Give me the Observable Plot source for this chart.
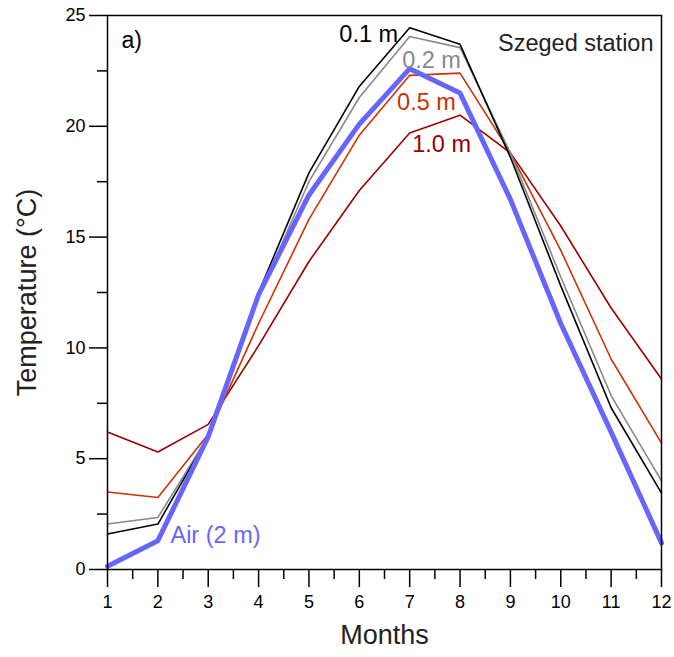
<!DOCTYPE html>
<html>
<head>
<meta charset="utf-8">
<script src="https://cdn.jsdelivr.net/npm/d3@7"></script>
<script src="https://cdn.jsdelivr.net/npm/@observablehq/plot@0.6"></script>
<style>
  body { margin: 0; background: #fff; }
  #chart { width: 674px; height: 657px; }
</style>
</head>
<body>
<div id="chart"></div>
<script>
const months = [1, 2, 3, 4, 5, 6, 7, 8, 9, 10, 11, 12];
const air  = [0.15, 1.3, 6.0, 12.4, 16.9, 20.1, 22.6, 21.5, 16.7, 11.1, 6.2, 1.2];
const d01  = [1.6, 2.05, 6.0, 12.5, 17.9, 21.8, 24.45, 23.7, 18.6, 12.8, 7.3, 3.45];
const d02  = [2.05, 2.35, 6.0, 12.3, 17.5, 21.3, 24.05, 23.55, 18.8, 13.2, 7.85, 4.0];
const d05  = [3.5, 3.25, 6.1, 11.1, 15.8, 19.6, 22.3, 22.4, 18.8, 14.4, 9.5, 5.7];
const d10  = [6.2, 5.3, 6.55, 10.1, 13.9, 17.1, 19.7, 20.5, 18.8, 15.5, 11.8, 8.6];
const xMajor = months;
const xMinor = d3.range(1.5, 12, 1);
const yMajor = [0, 5, 10, 15, 20, 25];
const yMinor = [2.5, 7.5, 12.5, 17.5, 22.5];

const toRows = (arr) => months.map((m, i) => ({m, v: arr[i]}));
const font = "'Liberation Sans', Arial, Helvetica, sans-serif";

const chart = Plot.plot({
  width: 674,
  height: 657,
  marginLeft: 107,
  marginRight: 13,
  marginTop: 15,
  marginBottom: 88,
  style: {fontFamily: font, background: "#fff", color: "#000"},
  x: {domain: [1, 12], label: null},
  y: {domain: [0, 25], label: null},
  marks: [
    Plot.axisX({ticks: xMinor, tickSize: 10, tickFormat: () => "", strokeWidth: 1.5, label: null}),
    Plot.axisX({ticks: xMajor, tickSize: 18, tickPadding: 8, fontSize: 18, strokeWidth: 1.5, label: null}),
    Plot.axisY({ticks: yMinor, tickSize: 10, tickFormat: () => "", strokeWidth: 1.5, label: null}),
    Plot.axisY({ticks: yMajor, tickSize: 18, tickPadding: 4, fontSize: 18, strokeWidth: 1.5, label: null}),
    Plot.line(toRows(d10), {x: "m", y: "v", stroke: "#990000", strokeWidth: 1.6}),
    Plot.line(toRows(d05), {x: "m", y: "v", stroke: "#cc3300", strokeWidth: 1.6}),
    Plot.line(toRows(d02), {x: "m", y: "v", stroke: "#888888", strokeWidth: 1.6}),
    Plot.line(toRows(d01), {x: "m", y: "v", stroke: "#000000", strokeWidth: 1.6}),
    Plot.line(toRows(air), {x: "m", y: "v", stroke: "#6666ff", strokeWidth: 5}),
    Plot.frame({stroke: "#000", strokeWidth: 1.5}),
    Plot.text(["0.1 m"], {x: 6.77, y: 24.15, textAnchor: "end", fill: "#000", fontSize: 23.5}),
    Plot.text(["0.2 m"], {x: 6.85, y: 22.97, textAnchor: "start", fill: "#888888", fontSize: 23.5}),
    Plot.text(["0.5 m"], {x: 6.75, y: 21.07, textAnchor: "start", fill: "#cc3300", fontSize: 23.5}),
    Plot.text(["1.0 m"], {x: 7.05, y: 19.2, textAnchor: "start", fill: "#990000", fontSize: 23.5}),
    Plot.text(["Air (2 m)"], {x: 2.25, y: 1.53, textAnchor: "start", fill: "#6666ff", fontSize: 23.5}),
    Plot.text(["Szeged station"], {frameAnchor: "top-right", dx: -8, dy: 28, textAnchor: "end", lineAnchor: "middle", fill: "#222", fontSize: 23.5}),
    Plot.text(["a)"], {frameAnchor: "top-left", dx: 14, dy: 25, textAnchor: "start", lineAnchor: "middle", fill: "#000", fontSize: 23}),
    Plot.text(["Months"], {frameAnchor: "bottom", dy: 66, textAnchor: "middle", lineAnchor: "middle", fill: "#222", fontSize: 27}),
    Plot.text(["Temperature (°C)"], {frameAnchor: "left", dx: -80, rotate: -90, textAnchor: "middle", lineAnchor: "middle", fill: "#222", fontSize: 27})
  ]
});
document.getElementById("chart").appendChild(chart);
</script>
</body>
</html>
